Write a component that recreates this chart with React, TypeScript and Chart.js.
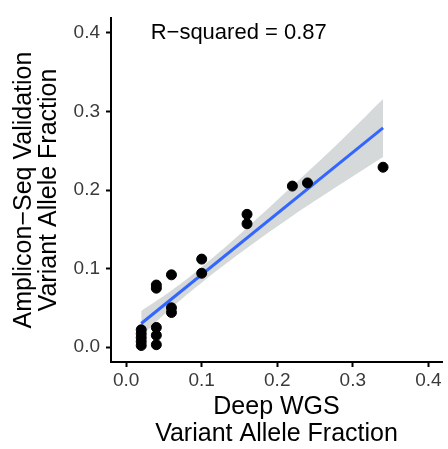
import React, { useEffect, useRef } from "react";
import { Chart, registerables } from "chart.js";
Chart.register(...registerables);

const X_TICKS = [0, 0.1, 0.2, 0.3, 0.4];
const Y_TICKS = [0, 0.1, 0.2, 0.3, 0.4];
const pointX = [0.02, 0.02, 0.02, 0.02, 0.02, 0.04, 0.04, 0.04, 0.04, 0.04, 0.06, 0.06, 0.06, 0.1, 0.1, 0.16, 0.16, 0.22, 0.24, 0.34];
const pointY = [0.002, 0.007, 0.012, 0.017, 0.022, 0.003, 0.015, 0.025, 0.075, 0.079, 0.044, 0.05, 0.092, 0.094, 0.112, 0.157, 0.169, 0.205, 0.209, 0.229];
const fitX = [0.02, 0.34];
const fitY = [0.03, 0.279];
const bandX = [0.02, 0.06, 0.1, 0.16, 0.22, 0.28, 0.34];
const bandLow = [0.014, 0.05, 0.082, 0.126, 0.167, 0.205, 0.242];
const bandHigh = [0.046, 0.072, 0.102, 0.152, 0.205, 0.259, 0.316];
const annotation = "R\u2212squared = 0.87";
const annotationX = 0.149;
const annotationY = 0.4;

const FONT = "'Liberation Sans', Arial, sans-serif";

export default function App() {
  const ref = useRef<HTMLCanvasElement | null>(null);
  useEffect(() => {
    document.body.style.margin = "0";
    const textPlugin = {
      id: "rsq",
      afterDatasetsDraw(chart: any) {
        const { ctx, scales } = chart;
        ctx.save();
        ctx.font = `22px ${FONT}`;
        ctx.fillStyle = "#000";
        ctx.textAlign = "center";
        ctx.textBaseline = "middle";
        ctx.fillText(annotation, scales.x.getPixelForValue(annotationX), scales.y.getPixelForValue(annotationY));
        ctx.restore();
      },
    };
    const chart = new Chart(ref.current!, {
      type: "scatter",
      data: {
        datasets: [
          {
            data: pointX.map((x, i) => ({ x, y: pointY[i] })),
            backgroundColor: "#000",
            borderColor: "#000",
            pointRadius: 5,
            order: 0,
          } as any,
          {
            type: "line",
            data: fitX.map((x, i) => ({ x, y: fitY[i] })),
            borderColor: "#3366FF",
            borderWidth: 3,
            pointRadius: 0,
            fill: false,
            order: 1,
          },
          {
            type: "line",
            data: bandX.map((x, i) => ({ x, y: bandLow[i] })),
            borderWidth: 0,
            borderColor: "rgba(0,0,0,0)",
            pointRadius: 0,
            fill: false,
            tension: 0.4,
            order: 3,
          },
          {
            type: "line",
            data: bandX.map((x, i) => ({ x, y: bandHigh[i] })),
            borderWidth: 0,
            borderColor: "rgba(0,0,0,0)",
            backgroundColor: "#d5d9d9",
            pointRadius: 0,
            fill: "-1",
            tension: 0.4,
            order: 2,
          },
        ],
      },
      options: {
        animation: false,
        responsive: false,
        maintainAspectRatio: false,
        layout: { padding: { left: 0, right: 0, top: 18, bottom: 0 } },
        plugins: { legend: { display: false }, tooltip: { enabled: false } },
        scales: {
          x: {
            type: "linear",
            min: -0.02,
            max: 0.418,
            afterBuildTicks: (s: any) => {
              s.ticks = X_TICKS.map((v) => ({ value: v }));
            },
            afterFit: (s: any) => {
              s.height = 87;
            },
            grid: { drawOnChartArea: false, drawTicks: true, tickLength: 5, color: "#000", tickWidth: 2 },
            border: { color: "#000", width: 2 },
            ticks: { color: "#3a3a3a", font: { family: FONT, size: 19 }, padding: 2, callback: (v: any) => Number(v).toFixed(1), maxRotation: 0 },
            title: { display: true, text: ["Deep WGS", "Variant Allele Fraction"], color: "#000", font: { family: FONT, size: 25, lineHeight: 1.1 }, padding: { top: 0, bottom: 1 } },
          },
          y: {
            type: "linear",
            min: -0.019,
            max: 0.419,
            afterBuildTicks: (s: any) => {
              s.ticks = Y_TICKS.map((v) => ({ value: v }));
            },
            afterFit: (s: any) => {
              s.width = 111;
            },
            grid: { drawOnChartArea: false, drawTicks: true, tickLength: 5, color: "#000", tickWidth: 2 },
            border: { color: "#000", width: 2 },
            ticks: { color: "#3a3a3a", font: { family: FONT, size: 19 }, padding: 6, callback: (v: any) => Number(v).toFixed(1) },
            title: { display: true, text: ["Amplicon\u2212Seq Validation", "Variant Allele Fraction"], color: "#000", font: { family: FONT, size: 25, lineHeight: 1.0 }, padding: { top: 11.5, bottom: 0 } },
          },
        },
      },
      plugins: [textPlugin],
    });
    return () => chart.destroy();
  }, []);
  return (
    <div style={{ position: "absolute", left: 0, top: 0, width: 448, height: 449 }}>
      <canvas ref={ref} width={448} height={449} style={{ display: "block", width: 448, height: 449 }} />
    </div>
  );
}
